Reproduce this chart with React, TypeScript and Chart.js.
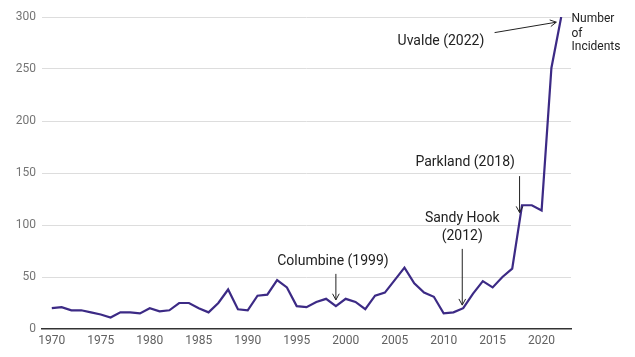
import React, { useEffect, useRef } from "react";
import { Chart, registerables } from "chart.js";

Chart.register(...registerables);

const YEARS = [
  1970, 1971, 1972, 1973, 1974, 1975, 1976, 1977, 1978, 1979,
  1980, 1981, 1982, 1983, 1984, 1985, 1986, 1987, 1988, 1989,
  1990, 1991, 1992, 1993, 1994, 1995, 1996, 1997, 1998, 1999,
  2000, 2001, 2002, 2003, 2004, 2005, 2006, 2007, 2008, 2009,
  2010, 2011, 2012, 2013, 2014, 2015, 2016, 2017, 2018, 2019,
  2020, 2021, 2022,
];
const INCIDENTS = [
  20, 21, 18, 18, 16, 14, 11, 16, 16, 15,
  20, 17, 18, 25, 25, 20, 16, 25, 38, 19,
  18, 32, 33, 47, 40, 22, 21, 26, 29, 22,
  29, 26, 19, 32, 35, 47, 59, 44, 35, 31,
  15, 16, 20, 34, 46, 40, 50, 58, 119, 119,
  114, 251, 300,
];
const X_TICKS = [1970, 1975, 1980, 1985, 1990, 1995, 2000, 2005, 2010, 2015, 2020];
const Y_TICKS = [0, 50, 100, 150, 200, 250, 300];
const SERIES_LABEL = ["Number", "of", "Incidents"];

// annotations in data units: text lines + anchor, arrow from -> to
const ANNOTATIONS = [
  { lines: ["Columbine (1999)"], tx: 1998.7, ty: [65], align: "center", from: [1999, 53], to: [1999, 28] },
  { lines: ["Sandy Hook", "(2012)"], tx: 2011.9, ty: [106, 89], align: "center", from: [2011.9, 77], to: [2011.9, 23] },
  { lines: ["Parkland (2018)"], tx: 2012.2, ty: [160], align: "center", from: [2017.75, 147], to: [2017.75, 112] },
  { lines: ["Uvalde (2022)"], tx: 2005.3, ty: [276], align: "left", from: [2015.2, 285], to: [2021.5, 295] },
];

const annotationPlugin = {
  id: "annot",
  afterDatasetsDraw(chart: any) {
    const { ctx } = chart;
    const xs = chart.scales.x;
    const ys = chart.scales.y;
    ctx.save();
    ctx.fillStyle = "#222";
    ctx.strokeStyle = "#222";
    ctx.lineWidth = 1;
    ctx.font = "14px Roboto";
    ctx.textBaseline = "middle";
    for (const a of ANNOTATIONS) {
      ctx.textAlign = a.align;
      a.lines.forEach((l, i) => {
        ctx.fillText(l, xs.getPixelForValue(a.tx), ys.getPixelForValue(a.ty[i]));
      });
      const x1 = xs.getPixelForValue(a.from[0]);
      const y1 = ys.getPixelForValue(a.from[1]);
      const x2 = xs.getPixelForValue(a.to[0]);
      const y2 = ys.getPixelForValue(a.to[1]);
      ctx.beginPath();
      ctx.moveTo(x1, y1);
      ctx.lineTo(x2, y2);
      const ang = Math.atan2(y2 - y1, x2 - x1);
      const h = 7;
      ctx.moveTo(x2 - h * Math.cos(ang - 0.5), y2 - h * Math.sin(ang - 0.5));
      ctx.lineTo(x2, y2);
      ctx.lineTo(x2 - h * Math.cos(ang + 0.5), y2 - h * Math.sin(ang + 0.5));
      ctx.stroke();
    }
    // series label at right
    ctx.font = "12px Roboto";
    ctx.textAlign = "left";
    ctx.fillStyle = "#222";
    const lx = xs.getPixelForValue(2023.05);
    const ly = [298, 284, 271];
    SERIES_LABEL.forEach((t, i) => ctx.fillText(t, lx, ys.getPixelForValue(ly[i])));
    ctx.restore();
  },
};

export default function App() {
  const ref = useRef<HTMLCanvasElement>(null);
  useEffect(() => {
    const chart = new Chart(ref.current!, {
      type: "line",
      data: {
        datasets: [
          {
            label: "Number of Incidents",
            data: YEARS.map((y, i) => ({ x: y, y: INCIDENTS[i] })),
            borderColor: "#3c2a85",
            borderWidth: 2.2,
            pointRadius: 0,
            tension: 0,
            fill: false,
          },
        ],
      },
      options: {
        animation: false,
        responsive: true,
        maintainAspectRatio: false,
        layout: { padding: { top: 17, right: 64, left: 0, bottom: 0 } },
        plugins: { legend: { display: false }, tooltip: { enabled: false } },
        scales: {
          x: {
            type: "linear",
            min: 1969,
            max: 2023,
            afterBuildTicks: (s: any) => {
              s.ticks = X_TICKS.map((v) => ({ value: v }));
            },
            afterFit: (s: any) => {
              s.height = 28;
            },
            grid: { display: false, drawTicks: false },
            border: { display: true, color: "#333", width: 1.5 },
            ticks: {
              padding: 5,
              color: "#616161",
              font: { family: "Roboto", size: 12 },
              callback: (v: any) => String(v),
              maxRotation: 0,
            },
          },
          y: {
            min: 0,
            max: 300,
            afterBuildTicks: (s: any) => {
              s.ticks = Y_TICKS.map((v) => ({ value: v }));
            },
            afterFit: (s: any) => {
              s.width = 42;
            },
            grid: {
              drawTicks: false,
              color: (c: any) => (c.tick && c.tick.value === 0 ? "rgba(0,0,0,0)" : "#dddddd"),
            },
            border: { display: false },
            ticks: {
              padding: 6,
              color: "#757575",
              font: { family: "Roboto", size: 12 },
            },
          },
        },
      },
      plugins: [annotationPlugin],
    } as any);
    return () => chart.destroy();
  }, []);
  return (
    <div style={{ position: "absolute", left: 0, top: 0, width: 635, height: 357 }}>
      <canvas ref={ref} />
    </div>
  );
}
